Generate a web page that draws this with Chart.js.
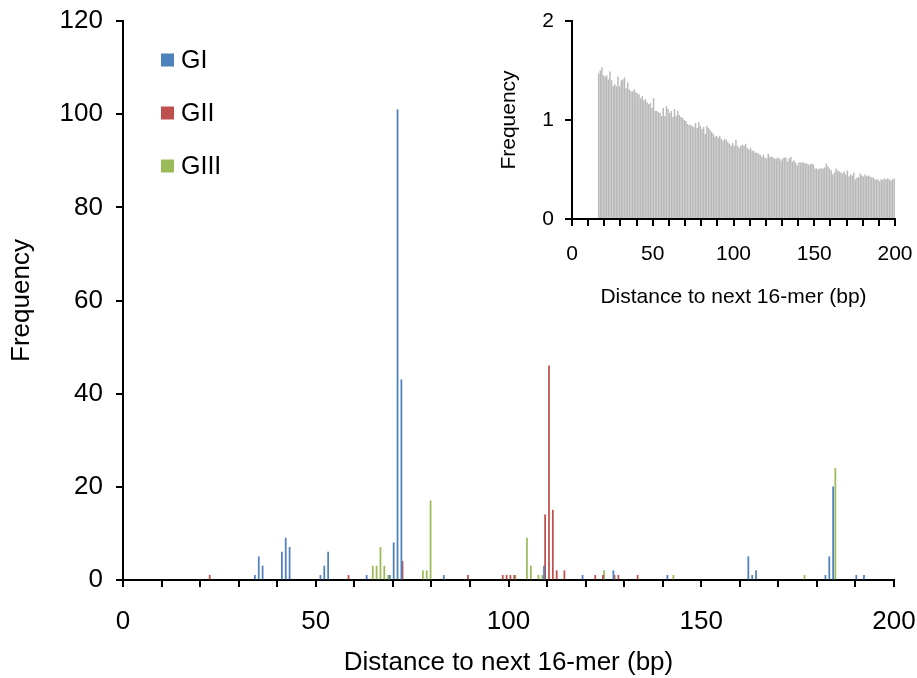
<!DOCTYPE html>
<html>
<head>
<meta charset="utf-8">
<script src="https://cdn.jsdelivr.net/npm/chart.js@4.4.1/dist/chart.umd.min.js"></script>
<style>
    body { margin: 0; background: #fff; }
    #wrap { position: relative; width: 917px; height: 678px; }
    #mainChart { position: absolute; left: 0; top: 0; }
    #insetChart { position: absolute; left: 480px; top: 0; }
</style>
</head>
<body>
<div id="wrap">
    <canvas id="mainChart" width="917" height="678"></canvas>
    <canvas id="insetChart" width="437" height="310"></canvas>
</div>
<script>
// main histogram, one pair of arrays per group (distance in bp, count)
let giDist = [34, 35, 36, 41, 42, 43, 51, 52, 53, 63, 69, 70, 71, 72, 83, 109, 119, 127, 141, 162, 163, 164, 182, 183, 184, 190, 192]
let giFreq = [1, 5, 3, 6, 9, 7, 1, 3, 6, 1, 1, 8, 101, 43, 1, 3, 1, 2, 1, 5, 1, 2, 1, 5, 20, 1, 1]

let giiDist = [22, 58, 72, 89, 98, 99, 100, 101, 109, 110, 111, 112, 114, 122, 124, 127, 128, 133]
let giiFreq = [1, 1, 4, 1, 1, 1, 1, 1, 14, 46, 15, 2, 2, 1, 1, 1, 1, 1]

let giiiDist = [64, 65, 66, 67, 68, 77, 78, 79, 101, 104, 105, 107, 108, 124, 142, 176, 184]
let giiiFreq = [3, 3, 7, 3, 1, 2, 2, 17, 1, 9, 3, 1, 1, 2, 1, 1, 24]

let groupNames = ["GI", "GII", "GIII"]

// inset: all 16-mers, distance 16..199
let insetStart = 16
let insetFreq = [
    1.47, 1.50, 1.53, 1.45, 1.44, 1.45, 1.41, 1.49, 1.40, 1.34,
    1.36, 1.34, 1.44, 1.34, 1.40, 1.41, 1.43, 1.32, 1.38, 1.31,
    1.29, 1.29, 1.31, 1.28, 1.27, 1.26, 1.22, 1.24, 1.20, 1.21,
    1.18, 1.16, 1.17, 1.12, 1.22, 1.09, 1.09, 1.08, 1.07, 1.04,
    1.12, 1.04, 1.14, 1.11, 1.07, 1.09, 1.03, 1.11, 1.04, 1.09,
    1.05, 1.03, 1.02, 1.00, 0.99, 0.96, 0.95, 0.95, 0.94, 0.93,
    0.97, 0.92, 0.98, 0.94, 0.91, 0.93, 0.86, 0.94, 0.92, 0.90,
    0.88, 0.86, 0.83, 0.84, 0.82, 0.84, 0.81, 0.79, 0.81, 0.80,
    0.78, 0.76, 0.74, 0.77, 0.74, 0.80, 0.74, 0.72, 0.74, 0.75,
    0.74, 0.76, 0.72, 0.70, 0.72, 0.69, 0.69, 0.67, 0.67, 0.66,
    0.65, 0.63, 0.65, 0.62, 0.61, 0.66, 0.63, 0.63, 0.62, 0.61,
    0.61, 0.62, 0.61, 0.59, 0.61, 0.62, 0.62, 0.58, 0.61, 0.63,
    0.58, 0.59, 0.57, 0.54, 0.57, 0.57, 0.57, 0.57, 0.56, 0.56,
    0.55, 0.55, 0.56, 0.55, 0.51, 0.51, 0.50, 0.51, 0.51, 0.51,
    0.52, 0.56, 0.53, 0.51, 0.49, 0.45, 0.47, 0.51, 0.49, 0.48,
    0.47, 0.46, 0.48, 0.45, 0.49, 0.43, 0.45, 0.44, 0.47, 0.40,
    0.42, 0.42, 0.46, 0.44, 0.43, 0.45, 0.43, 0.44, 0.43, 0.42,
    0.42, 0.40, 0.40, 0.40, 0.38, 0.40, 0.40, 0.41, 0.40, 0.41,
    0.40, 0.39, 0.40, 0.41
]

const FONT = '"Liberation Sans", Arial, sans-serif'

// bars sit between ticks, like an Excel category axis
function toPoints(dist, freq) {
    return dist.map((d, i) => ({ x: d + 0.5, y: freq[i] }))
}

const sideLegend = {
    id: 'sideLegend',
    afterDraw(chart) {
        const ctx = chart.ctx
        const area = chart.chartArea
        ctx.save()
        ctx.font = '25px ' + FONT
        ctx.textBaseline = 'middle'
        chart.data.datasets.forEach((ds, i) => {
            let y = area.top + 39 + i * 53
            ctx.fillStyle = ds.backgroundColor
            ctx.fillRect(area.left + 38, y - 6.5, 13, 13)
            ctx.fillStyle = '#000'
            ctx.fillText(ds.label, area.left + 58, y + 1)
        })
        ctx.restore()
    }
}

// label overflow padding is switched off so layout.padding alone sets the plot box
function axisX(height, size, tickPad, titlePad) {
    return {
        type: 'linear', min: 0, max: 200, offset: false,
        afterFit: s => { s.height = height; s.paddingLeft = 0; s.paddingRight = 0 },
        border: { color: '#000', width: 2 },
        grid: { offset: false, drawOnChartArea: false, drawTicks: true, tickLength: 7, color: '#000', lineWidth: 2 },
        ticks: {
            stepSize: 10, autoSkip: false, maxRotation: 0, padding: tickPad, color: '#000',
            font: { size: size, family: FONT },
            callback: v => v % 50 === 0 ? v : ''
        },
        title: { display: true, text: 'Distance to next 16-mer (bp)', color: '#000', font: { size: size, family: FONT }, padding: titlePad }
    }
}

function axisY(width, max, step, size, tickPad, titlePad) {
    return {
        min: 0, max: max,
        afterFit: s => { s.width = width; s.paddingTop = 0; s.paddingBottom = 0 },
        border: { color: '#000', width: 2 },
        grid: { drawOnChartArea: false, drawTicks: true, tickLength: 7, color: '#000', lineWidth: 2 },
        ticks: { stepSize: step, padding: tickPad, color: '#000', font: { size: size, family: FONT } },
        title: { display: true, text: 'Frequency', color: '#000', font: { size: size, family: FONT }, padding: titlePad }
    }
}

new Chart(document.getElementById('mainChart'), {
    type: 'bar',
    data: {
        datasets: [
            { label: groupNames[0], data: toPoints(giDist, giFreq), backgroundColor: '#4f81bd' },
            { label: groupNames[1], data: toPoints(giiDist, giiFreq), backgroundColor: '#c0504d' },
            { label: groupNames[2], data: toPoints(giiiDist, giiiFreq), backgroundColor: '#9bbb59' }
        ]
    },
    options: {
        responsive: false,
        animation: false,
        barThickness: 1.1,
        layout: { padding: { left: 0, top: 21, right: 23, bottom: 0 } },
        plugins: { legend: { display: false }, tooltip: { enabled: false } },
        scales: {
            x: axisX(98, 26, 19, 0),
            y: axisY(123, 120, 20, 26, 13, 6)
        }
    },
    plugins: [sideLegend]
})

new Chart(document.getElementById('insetChart'), {
    type: 'bar',
    data: {
        datasets: [{
            label: 'all',
            data: insetFreq.map((v, i) => ({ x: insetStart + i + 0.5, y: v })),
            backgroundColor: '#b9b9b9',
            barPercentage: 0.92,
            categoryPercentage: 1
        }]
    },
    options: {
        responsive: false,
        animation: false,
        layout: { padding: { left: 0, top: 21, right: 22, bottom: 0 } },
        plugins: { legend: { display: false }, tooltip: { enabled: false } },
        scales: {
            x: axisX(91, 21, 16, 0),
            y: axisY(92, 2, 1, 21, 11, 17)
        }
    }
})
</script>
</body>
</html>
